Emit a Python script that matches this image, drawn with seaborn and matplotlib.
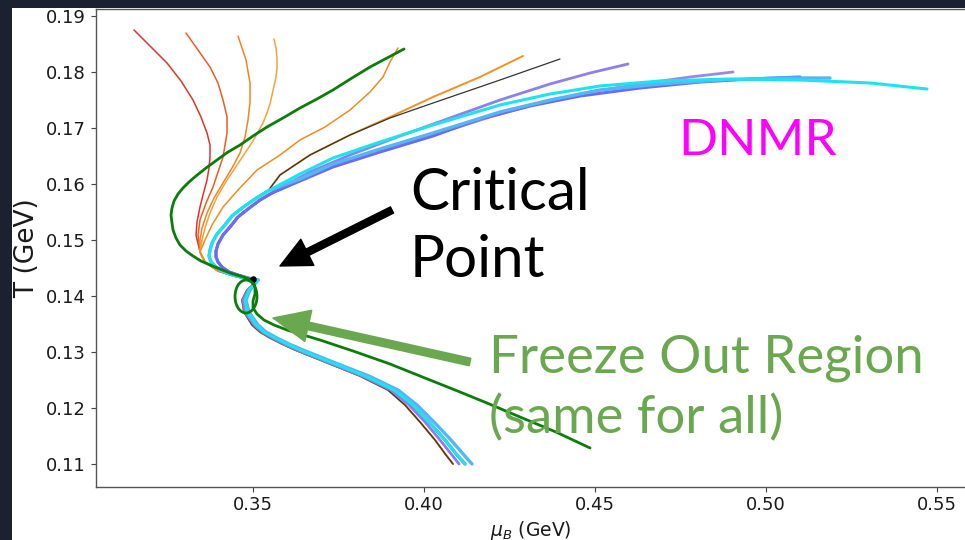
import matplotlib
matplotlib.use("Agg")
import numpy as np
import seaborn as sns
import matplotlib.pyplot as plt
from matplotlib.patches import Ellipse, Rectangle

# ---------------- trajectory data: baryon chemical potential mu_B (GeV), temperature T (GeV)
# shared descending branches from the critical point down to T = 0.11 GeV
lower_T = [0.14286, 0.14107, 0.13929, 0.13714, 0.13482, 0.13357, 0.13250, 0.13143, 0.13036,
           0.12786, 0.12571, 0.12321, 0.12054, 0.11750, 0.11429, 0.11161, 0.11000]
lower_a_mu = [0.35155, 0.34833, 0.34687, 0.34746, 0.34980, 0.35213, 0.35506, 0.35857, 0.36237,
              0.37260, 0.38137, 0.38956, 0.39453, 0.39892, 0.40330, 0.40652, 0.40857]
lower_b_mu = [0.35155, 0.34863, 0.34716, 0.34775, 0.35038, 0.35272, 0.35564, 0.35915, 0.36295,
              0.37319, 0.38196, 0.39044, 0.39570, 0.40038, 0.40477, 0.40827, 0.41032]
lower_c_mu = [0.35155, 0.34892, 0.34775, 0.34833, 0.35096, 0.35330, 0.35652, 0.36003, 0.36383,
              0.37406, 0.38284, 0.39132, 0.39687, 0.40155, 0.40623, 0.40974, 0.41208]
lower_d_mu = [0.35155, 0.34921, 0.34804, 0.34892, 0.35155, 0.35389, 0.35711, 0.36061, 0.36471,
              0.37494, 0.38401, 0.39249, 0.39804, 0.40301, 0.40798, 0.41178, 0.41412]

# turning region (nose) of the trajectories
nose_blue_mu = [0.35447, 0.35067, 0.34687, 0.34395, 0.34161, 0.33956, 0.33810, 0.33751,
                0.33722, 0.33781, 0.33927, 0.34161, 0.34424, 0.34775, 0.35155]
nose_blue_T = [0.15875, 0.15732, 0.15571, 0.15429, 0.15250, 0.15107, 0.14946, 0.14821,
               0.14714, 0.14607, 0.14518, 0.14429, 0.14375, 0.14321, 0.14286]
nose_inner_mu = [0.35564, 0.35213, 0.34863, 0.34570, 0.34336, 0.34132, 0.33985, 0.33927,
                 0.33927, 0.33985, 0.34102, 0.34307, 0.34570, 0.34863, 0.35155]
nose_inner_T = [0.15839, 0.15714, 0.15554, 0.15411, 0.15232, 0.15089, 0.14929, 0.14804,
                0.14696, 0.14607, 0.14518, 0.14429, 0.14375, 0.14321, 0.14286]
nose_orange_mu = [0.33459, 0.33605, 0.33985, 0.34541, 0.35155]
nose_orange_T = [0.14786, 0.14607, 0.14446, 0.14339, 0.14286]

# initial (high-T) branches of each trajectory
cyan_mu = [0.54716, 0.53050, 0.51003, 0.48956, 0.46909, 0.45155, 0.43693, 0.42231,
           0.40272, 0.38722, 0.37348, 0.36383]
cyan_T = [0.17696, 0.17804, 0.17857, 0.17875, 0.17839, 0.17750, 0.17607, 0.17411,
          0.17054, 0.16750, 0.16464, 0.16179]
sky_mu = [0.51880, 0.50418, 0.48664, 0.46909, 0.45155, 0.43693, 0.42231, 0.40272,
          0.38722, 0.37348, 0.36383]
sky_T = [0.17893, 0.17893, 0.17857, 0.17786, 0.17679, 0.17500, 0.17286, 0.16911,
         0.16625, 0.16357, 0.16089]
slate_mu = [0.51003, 0.49541, 0.48079, 0.46325, 0.44570, 0.43108, 0.41646, 0.40272,
            0.38722, 0.37348, 0.36383]
slate_T = [0.17911, 0.17875, 0.17821, 0.17714, 0.17571, 0.17393, 0.17161, 0.16857,
           0.16571, 0.16304, 0.16054]
violet_mu = [0.49044, 0.47787, 0.46325, 0.44863, 0.43401, 0.41939, 0.40272, 0.38722,
             0.37348, 0.36383]
violet_T = [0.18000, 0.17911, 0.17786, 0.17643, 0.17446, 0.17196, 0.16875, 0.16607,
            0.16339, 0.16071]
lilac_mu = [0.45974, 0.44863, 0.43693, 0.42231, 0.40769, 0.39307, 0.37845, 0.36675, 0.35798]
lilac_T = [0.18143, 0.17982, 0.17786, 0.17500, 0.17179, 0.16857, 0.16518, 0.16214, 0.15929]
black_mu = [0.43985, 0.42231, 0.40272, 0.39015, 0.37845, 0.36675, 0.35798]
black_T = [0.18232, 0.17857, 0.17446, 0.17179, 0.16875, 0.16518, 0.16161]
amber_mu = [0.42904, 0.41646, 0.40272, 0.39015, 0.37845, 0.36675, 0.35798]
amber_T = [0.18286, 0.17911, 0.17554, 0.17196, 0.16875, 0.16518, 0.16161]
orange5_mu = [0.39249, 0.39015, 0.38810, 0.38430, 0.37845, 0.37114, 0.36383, 0.35798,
              0.35126, 0.34570, 0.34132, 0.33810, 0.33605]
orange5_T = [0.18429, 0.18179, 0.17911, 0.17643, 0.17321, 0.17018, 0.16786, 0.16518,
             0.16250, 0.15893, 0.15589, 0.15268, 0.15000]
orange4_mu = [0.35623, 0.35681, 0.35711, 0.35711, 0.35681, 0.35623, 0.35564, 0.35506,
              0.35418, 0.35301, 0.35155, 0.35009, 0.34833, 0.34541, 0.34249, 0.33956,
              0.33751, 0.33605, 0.33518]
orange4_T = [0.18589, 0.18429, 0.18250, 0.18071, 0.17911, 0.17750, 0.17589, 0.17429,
             0.17268, 0.17089, 0.16929, 0.16768, 0.16607, 0.16339, 0.16071, 0.15768,
             0.15482, 0.15214, 0.15000]
orange3_mu = [0.34570, 0.34804, 0.34921, 0.34921, 0.34863, 0.34775, 0.34629, 0.34395,
              0.34132, 0.33868, 0.33664, 0.33518, 0.33459]
orange3_T = [0.18643, 0.18214, 0.17804, 0.17464, 0.17143, 0.16839, 0.16554, 0.16286,
             0.16018, 0.15750, 0.15482, 0.15214, 0.15000]
orangered_mu = [0.33050, 0.33401, 0.33751, 0.33985, 0.34132, 0.34249, 0.34249, 0.34190,
                0.34132, 0.33985, 0.33839, 0.33635, 0.33459, 0.33401]
orangered_T = [0.18696, 0.18393, 0.18089, 0.17804, 0.17500, 0.17196, 0.16911, 0.16696,
               0.16482, 0.16214, 0.15946, 0.15661, 0.15357, 0.15089]
red_mu = [0.31529, 0.31997, 0.32494, 0.32904, 0.33254, 0.33488, 0.33664, 0.33751, 0.33751,
          0.33722, 0.33664, 0.33547, 0.33459, 0.33371, 0.33342]
red_T = [0.18750, 0.18464, 0.18161, 0.17839, 0.17500, 0.17196, 0.16911, 0.16696, 0.16482,
         0.16286, 0.16071, 0.15804, 0.15589, 0.15321, 0.15089]

# ideal-hydro reference trajectory (green)
green_mu = [0.39424, 0.38927, 0.38430, 0.37904, 0.37348, 0.36880, 0.36383, 0.35886, 0.35418,
            0.35009, 0.34629, 0.34278, 0.33956, 0.33635, 0.33342, 0.33137, 0.32962, 0.32816,
            0.32699, 0.32640, 0.32611, 0.32640, 0.32670, 0.32757, 0.32874, 0.33050, 0.33254,
            0.33488, 0.33751, 0.34044, 0.34336, 0.34629, 0.35009,
            0.35067, 0.35067, 0.35009, 0.35009, 0.35126, 0.35330, 0.35623, 0.36003, 0.36968,
            0.37933, 0.39015, 0.39892, 0.41061, 0.41851, 0.42816, 0.43868, 0.44863]
green_T = [0.18411, 0.18250, 0.18089, 0.17893, 0.17679, 0.17518, 0.17357, 0.17179, 0.17018,
           0.16857, 0.16696, 0.16571, 0.16429, 0.16286, 0.16143, 0.16036, 0.15929, 0.15821,
           0.15696, 0.15571, 0.15446, 0.15304, 0.15179, 0.15036, 0.14911, 0.14804, 0.14714,
           0.14625, 0.14554, 0.14482, 0.14411, 0.14357, 0.14286,
           0.14161, 0.14036, 0.13911, 0.13786, 0.13679, 0.13571, 0.13482, 0.13393, 0.13214,
           0.13018, 0.12786, 0.12571, 0.12286, 0.12089, 0.11839, 0.11571, 0.11286]

critical_mu = [0.3501]
critical_T = [0.1430]

xtick_vals = [0.35, 0.40, 0.45, 0.50, 0.55]
xtick_labels = ["0.35", "0.40", "0.45", "0.50", "0.55"]
ytick_vals = [0.11, 0.12, 0.13, 0.14, 0.15, 0.16, 0.17, 0.18, 0.19]
ytick_labels = ["0.11", "0.12", "0.13", "0.14", "0.15", "0.16", "0.17", "0.18", "0.19"]

# ---------------- figure
sns.set_theme(style="ticks")
plt.rcParams["font.family"] = ["DejaVu Sans"]

W, H = 965, 540
fig = plt.figure(figsize=(W / 100, H / 100), dpi=100, facecolor="#1b2130")
fig.patches.append(Rectangle((12 / W, 0), 1, 1 - 8 / H, transform=fig.transFigure,
                             facecolor="white", edgecolor="none", zorder=-5))
ax = fig.add_axes([95.7 / W, 53.3 / H, (966 - 95.7) / W, (486.7 - 9.3) / H])
ax.set_facecolor("white")
ax.set_zorder(2)


def trajectory(up_mu, up_T, nose, lower_mu, color, lw, z):
    nmu, nT = nose
    mu = np.concatenate([up_mu, nmu, lower_mu])
    T = np.concatenate([up_T, nT, lower_T])
    sns.lineplot(x=mu, y=T, sort=False, estimator=None, color=color, linewidth=lw,
                 ax=ax, zorder=z, solid_joinstyle="round", solid_capstyle="round")


NB = (nose_blue_mu, nose_blue_T)
NI = (nose_inner_mu, nose_inner_T)
NO = (nose_orange_mu, nose_orange_T)

trajectory(red_mu, red_T, NO, lower_a_mu, "#e0352b", 1.1, 3)
trajectory(orangered_mu, orangered_T, NO, lower_a_mu, "#f25a24", 1.1, 3)
trajectory(orange3_mu, orange3_T, NO, lower_b_mu, "#f5841f", 1.1, 3)
trajectory(orange4_mu, orange4_T, NO, lower_b_mu, "#f8a23c", 1.1, 3)
trajectory(orange5_mu, orange5_T, NO, lower_b_mu, "#f08c22", 1.1, 3)
trajectory(amber_mu, amber_T, NB, lower_a_mu, "#f39020", 1.4, 3)
trajectory(black_mu, black_T, NB, lower_a_mu, "#333333", 0.9, 3)
trajectory(lilac_mu, lilac_T, NI, lower_b_mu, "#8c80ee", 2.0, 4)
trajectory(violet_mu, violet_T, NI, lower_c_mu, "#9a88e8", 2.0, 4)
trajectory(slate_mu, slate_T, NI, lower_c_mu, "#6b6bf3", 2.2, 4)
trajectory(sky_mu, sky_T, NB, lower_d_mu, "#55b6f4", 2.4, 4)
trajectory(cyan_mu, cyan_T, NB, lower_c_mu, "#1ce4ef", 2.2, 5)

sns.lineplot(x=green_mu, y=green_T, sort=False, estimator=None, color="#0b7d0b",
             linewidth=2.0, ax=ax, zorder=6, solid_joinstyle="round")
sns.scatterplot(x=critical_mu, y=critical_T, color="black", s=22, linewidth=0, ax=ax, zorder=7)

# freeze-out region marker
ax.add_patch(Ellipse((0.34804, 0.13991), width=0.00643, height=0.00589, fill=False,
                     edgecolor="#0b7d0b", linewidth=2.0, zorder=7))

# annotation arrows
ax.annotate("", xy=(0.35798, 0.14536), xytext=(0.39073, 0.15536),
            arrowprops=dict(facecolor="black", edgecolor="black", width=5,
                            headwidth=21, headlength=22, shrink=0), zorder=8)
ax.annotate("", xy=(0.35594, 0.13607), xytext=(0.41354, 0.12821),
            arrowprops=dict(facecolor="#6aa84f", edgecolor="#6aa84f", width=5.5,
                            headwidth=23, headlength=26, shrink=0), zorder=8)

ax.set_xlim(0.30409, 0.55857)
ax.set_ylim(0.105946, 0.191196)
ax.set_xticks(xtick_vals, xtick_labels)
ax.set_yticks(ytick_vals, ytick_labels)
ax.tick_params(axis="both", labelsize=13, length=3.5, width=0.8, color="#444444",
               labelcolor="#1a1a1a", pad=3.5)
for s in ax.spines.values():
    s.set_color("#555555")
    s.set_linewidth(1.0)
ax.set_xlabel(r"$\mu_B$ (GeV)", fontsize=13.5, color="#1a1a1a", labelpad=3)
ax.set_ylabel("T (GeV)", fontsize=19, color="#1a1a1a", labelpad=4)


def ftext(px, py, s, **kw):
    t = fig.text(px / W, 1 - py / H, s, va="baseline", ha="left",
                 family=["Lato", "DejaVu Sans"], **kw)
    t.set_zorder(10)


ftext(410, 210, "Critical", fontsize=42, color="black")
ftext(410, 277, "Point", fontsize=42, color="black")
ftext(489, 372, "Freeze Out Region", fontsize=38, color="#6aa84f")
ftext(489, 433, "(same for all)", fontsize=38, color="#6aa84f")
ftext(678, 155, "DNMR", fontsize=37, color="#ff00ff")

fig.savefig("out.png", dpi=100, facecolor=fig.get_facecolor())
